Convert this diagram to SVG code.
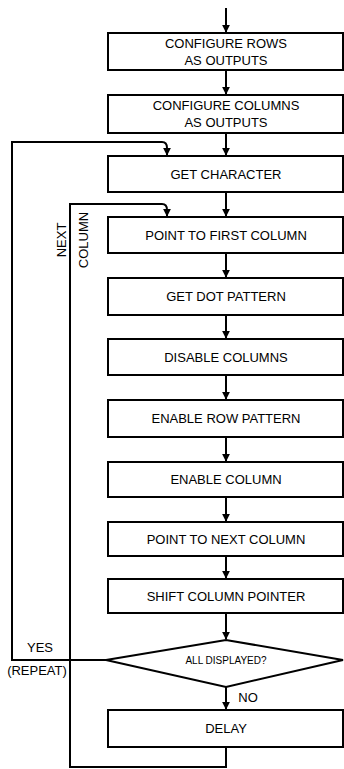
<svg xmlns="http://www.w3.org/2000/svg" width="344" height="769" viewBox="0 0 344 769">
<style>
.box{fill:#fff;stroke:#000;stroke-width:2}
.t{font-family:"Liberation Sans",Arial,sans-serif;font-size:13px;fill:#000;text-anchor:middle}
.s{font-size:10px}
.c{fill:none;stroke:#000;stroke-width:2}
</style>
<defs>
<marker id="ah" viewBox="0 0 10 10" refX="9" refY="5" markerWidth="4" markerHeight="5" orient="auto" markerUnits="strokeWidth">
<path d="M0,0 L10,5 L0,10 z" fill="#000"/>
</marker>
</defs>
<g id="connectors">
<line class="c" x1="226" y1="8" x2="226" y2="32" marker-end="url(#ah)"/>
<line class="c" x1="226" y1="70" x2="226" y2="94" marker-end="url(#ah)"/>
<line class="c" x1="226" y1="133" x2="226" y2="155" marker-end="url(#ah)"/>
<line class="c" x1="226" y1="192" x2="226" y2="216" marker-end="url(#ah)"/>
<line class="c" x1="226" y1="253" x2="226" y2="277" marker-end="url(#ah)"/>
<line class="c" x1="226" y1="315" x2="226" y2="338" marker-end="url(#ah)"/>
<line class="c" x1="226" y1="375" x2="226" y2="399" marker-end="url(#ah)"/>
<line class="c" x1="226" y1="437" x2="226" y2="461" marker-end="url(#ah)"/>
<line class="c" x1="226" y1="497" x2="226" y2="521" marker-end="url(#ah)"/>
<line class="c" x1="226" y1="556" x2="226" y2="578" marker-end="url(#ah)"/>
<line class="c" x1="226" y1="613" x2="226" y2="639" marker-end="url(#ah)"/>
<line class="c" x1="226" y1="687" x2="226" y2="709" marker-end="url(#ah)"/>
<path class="c" d="M106,660 H12 V142 H162 Q167,142 167,148 V155" marker-end="url(#ah)"/>
<path class="c" d="M226,747 V767 H70 V204 H162 Q167,204 167,210 V216" marker-end="url(#ah)"/>
</g>
<g id="n1"><rect class="box" x="108" y="33" width="235" height="37"/><text class="t" x="226" y="48">CONFIGURE ROWS</text><text class="t" x="226" y="65">AS OUTPUTS</text></g>
<g id="n2"><rect class="box" x="108" y="95" width="235" height="38"/><text class="t" x="226" y="110">CONFIGURE COLUMNS</text><text class="t" x="226" y="127">AS OUTPUTS</text></g>
<g id="n3"><rect class="box" x="108" y="156" width="235" height="36"/><text class="t" x="226" y="179">GET CHARACTER</text></g>
<g id="n4"><rect class="box" x="108" y="217" width="235" height="36"/><text class="t" x="226" y="240">POINT TO FIRST COLUMN</text></g>
<g id="n5"><rect class="box" x="108" y="278" width="235" height="37"/><text class="t" x="226" y="301">GET DOT PATTERN</text></g>
<g id="n6"><rect class="box" x="108" y="339" width="235" height="36"/><text class="t" x="226" y="362">DISABLE COLUMNS</text></g>
<g id="n7"><rect class="box" x="108" y="400" width="235" height="37"/><text class="t" x="226" y="423">ENABLE ROW PATTERN</text></g>
<g id="n8"><rect class="box" x="108" y="462" width="235" height="35"/><text class="t" x="226" y="484">ENABLE COLUMN</text></g>
<g id="n9"><rect class="box" x="108" y="522" width="235" height="34"/><text class="t" x="226" y="544">POINT TO NEXT COLUMN</text></g>
<g id="n10"><rect class="box" x="108" y="579" width="235" height="34"/><text class="t" x="226" y="601">SHIFT COLUMN POINTER</text></g>
<g id="n11"><polygon class="box" points="106,660 226,640 343,660 226,687"/><text class="t s" x="226" y="664">ALL DISPLAYED?</text></g>
<g id="n12"><rect class="box" x="108" y="710" width="235" height="37"/><text class="t" x="226" y="733">DELAY</text></g>
<g id="labels">
<text class="t" transform="translate(66,240) rotate(-90)">NEXT</text>
<text class="t" transform="translate(88,240) rotate(-90)">COLUMN</text>
<text class="t" x="40" y="652">YES</text>
<text class="t" x="37" y="675">(REPEAT)</text>
<text class="t" x="248" y="702">NO</text>
</g>
</svg>
